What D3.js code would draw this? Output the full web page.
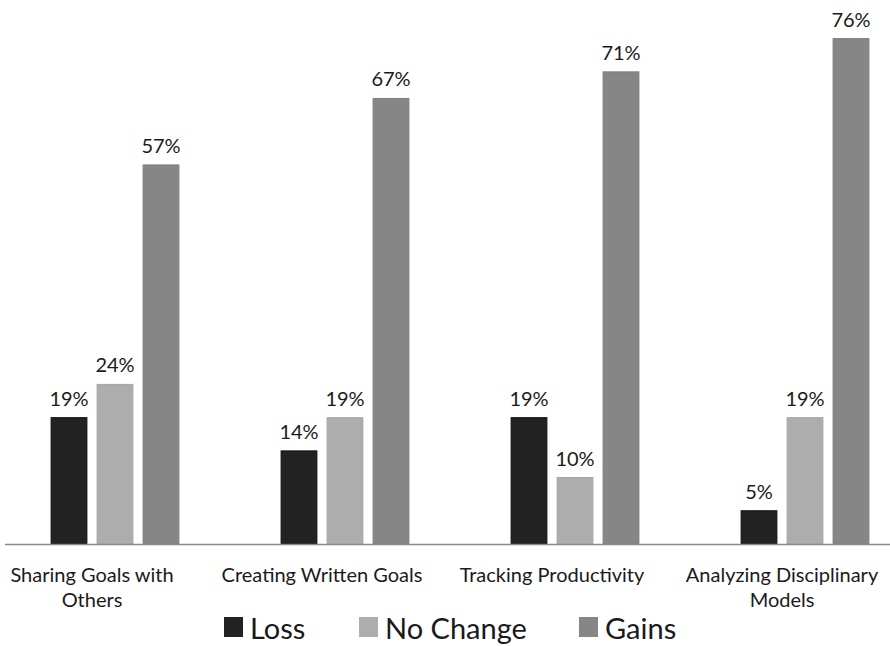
<!DOCTYPE html>
<html>
<head>
<meta charset="utf-8">
<script src="https://cdn.jsdelivr.net/npm/d3@7"></script>
<style>
  html, body { margin: 0; padding: 0; background: #fff; }
  svg { display: block; }
  text { font-family: Lato, "Open Sans", sans-serif; fill: #1a1a1a; }
</style>
</head>
<body>
<svg id="chart" width="890" height="646"></svg>
<script>
const categories = [
  "Sharing Goals with Others",
  "Creating Written Goals",
  "Tracking Productivity",
  "Analyzing Disciplinary Models"
];
const seriesNames = ["Loss", "No Change", "Gains"];
const lossValues = [19, 14, 19, 5];
const noChangeValues = [24, 19, 10, 19];
const gainsValues = [57, 67, 71, 76];
const seriesColors = ["#222222", "#adadad", "#868686"];
const seriesStrokes = ["#111111", "#a5a5a5", "#7d7d7d"];

const seriesValues = [lossValues, noChangeValues, gainsValues];
const data = categories.map((c, i) => ({
  category: c,
  values: seriesNames.map((s, j) => ({ series: s, idx: j, value: seriesValues[j][i] }))
}));

const svg = d3.select("#chart");
const baseY = 544;

const y = d3.scaleLinear().domain([0, 80]).range([baseY, baseY - 80 * 6.65]);

const x0 = d3.scaleBand().domain(categories).range([-23, 897])
  .paddingInner(0.2).paddingOuter(0.1);
// first slot is an empty placeholder series (as in the source chart)
const slots = ["", ...seriesNames];
const x1 = d3.scaleBand().domain(slots).range([0, x0.bandwidth()])
  .paddingInner(0.2).paddingOuter(0.1);

const groups = svg.append("g").selectAll("g").data(data).join("g")
  .attr("transform", d => `translate(${x0(d.category)},0)`);

groups.selectAll("rect").data(d => d.values).join("rect")
  .attr("x", d => x1(d.series) + 0.5)
  .attr("y", d => y(d.value))
  .attr("width", x1.bandwidth() - 1)
  .attr("height", d => y(0) - y(d.value))
  .attr("fill", d => seriesColors[d.idx])
  .attr("stroke", d => seriesStrokes[d.idx])
  .attr("stroke-width", 1);

groups.selectAll("text.val").data(d => d.values).join("text")
  .attr("class", "val")
  .attr("x", d => x1(d.series) + x1.bandwidth() / 2)
  .attr("y", d => y(d.value) - 12)
  .attr("text-anchor", "middle")
  .style("font-size", "20px")
  .text(d => d.value + "%");

// axis baseline
svg.append("line")
  .attr("x1", 5).attr("x2", 890)
  .attr("y1", baseY + 0.5).attr("y2", baseY + 0.5)
  .attr("stroke", "#8c8c8c").attr("stroke-width", 1.5);

// category labels with wrapping
const xAxis = d3.axisBottom(x0).tickSize(0).tickPadding(0);
const axisG = svg.append("g").attr("transform", `translate(0,${baseY})`).call(xAxis);
axisG.select(".domain").remove();
axisG.selectAll(".tick text")
  .style("font-size", "20px")
  .attr("fill", "#1a1a1a")
  .attr("dy", null)
  .attr("y", 38)
  .each(function(d) {
    const t = d3.select(this);
    const words = d.split(" ");
    t.text(null);
    let line = [];
    let lineNo = 0;
    let tspan = t.append("tspan").attr("x", 0).attr("y", 38);
    for (const w of words) {
      line.push(w);
      tspan.text(line.join(" "));
      if (tspan.node().getComputedTextLength() > 205 && line.length > 1) {
        line.pop();
        tspan.text(line.join(" "));
        line = [w];
        lineNo++;
        tspan = t.append("tspan").attr("x", 0).attr("y", 38 + lineNo * 25).text(w);
      }
    }
  });

// legend
const legendX = d3.scaleOrdinal().domain(seriesNames).range([224, 359, 579]);
const legend = svg.append("g").selectAll("g").data(seriesNames).join("g")
  .attr("transform", d => `translate(${legendX(d)},617)`);
legend.append("rect")
  .attr("width", 19).attr("height", 20)
  .attr("fill", (d, i) => seriesColors[i]);
legend.append("text")
  .attr("x", 26).attr("y", 22)
  .style("font-size", "29px")
  .text(d => d);
</script>
</body>
</html>
